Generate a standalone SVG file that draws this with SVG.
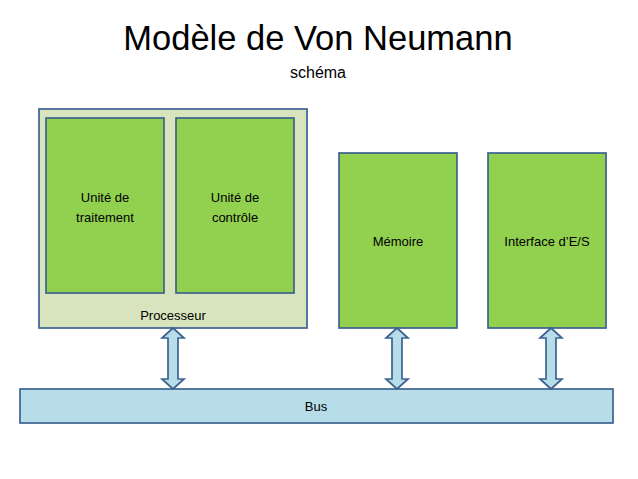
<svg xmlns="http://www.w3.org/2000/svg" width="638" height="479" viewBox="0 0 638 479">
<style>
.box{stroke:#3E6290;stroke-width:1.7}
.g{fill:#92D050}
.proc{fill:#D7E4BD}
.bus{fill:#B7DEE8}
.arrow{fill:#B7DEE8;stroke:#3E6290;stroke-width:1.7;stroke-linejoin:miter}
text{font-family:"Liberation Sans",Arial,sans-serif;fill:#000;text-anchor:middle}
.lbl{font-size:13px}
</style>
<rect width="638" height="479" fill="#fff"/>
<text x="318" y="50" font-size="34.5">Modèle de Von Neumann</text>
<text x="318" y="78" font-size="16">schéma</text>
<g id="processeur">
<rect class="box proc" x="39" y="109" width="268" height="219"/>
<text class="lbl" x="173" y="320">Processeur</text>
</g>
<g id="unite-traitement">
<rect class="box g" x="46" y="118" width="118" height="175"/>
<text class="lbl" x="105" y="202">Unité de</text>
<text class="lbl" x="105" y="222">traitement</text>
</g>
<g id="unite-controle">
<rect class="box g" x="176" y="118" width="118" height="175"/>
<text class="lbl" x="235" y="202">Unité de</text>
<text class="lbl" x="235" y="222">contrôle</text>
</g>
<g id="memoire">
<rect class="box g" x="339" y="153" width="118" height="175"/>
<text class="lbl" x="398" y="246">Mémoire</text>
</g>
<g id="interface">
<rect class="box g" x="488" y="153" width="118" height="175"/>
<text class="lbl" x="547" y="246">Interface d’E/S</text>
</g>
<g id="bus">
<rect class="box bus" x="20" y="389" width="593" height="34"/>
<text class="lbl" x="316" y="411">Bus</text>
</g>
<g id="connectors">
<path class="arrow" d="M173,328 L184,338 L178,338 L178,379 L184,379 L173,389 L162,379 L168,379 L168,338 L162,338 Z"/>
<path class="arrow" d="M397,328 L408,338 L402,338 L402,379 L408,379 L397,389 L386,379 L392,379 L392,338 L386,338 Z"/>
<path class="arrow" d="M551,328 L562,338 L556,338 L556,379 L562,379 L551,389 L540,379 L546,379 L546,338 L540,338 Z"/>
</g>
</svg>
